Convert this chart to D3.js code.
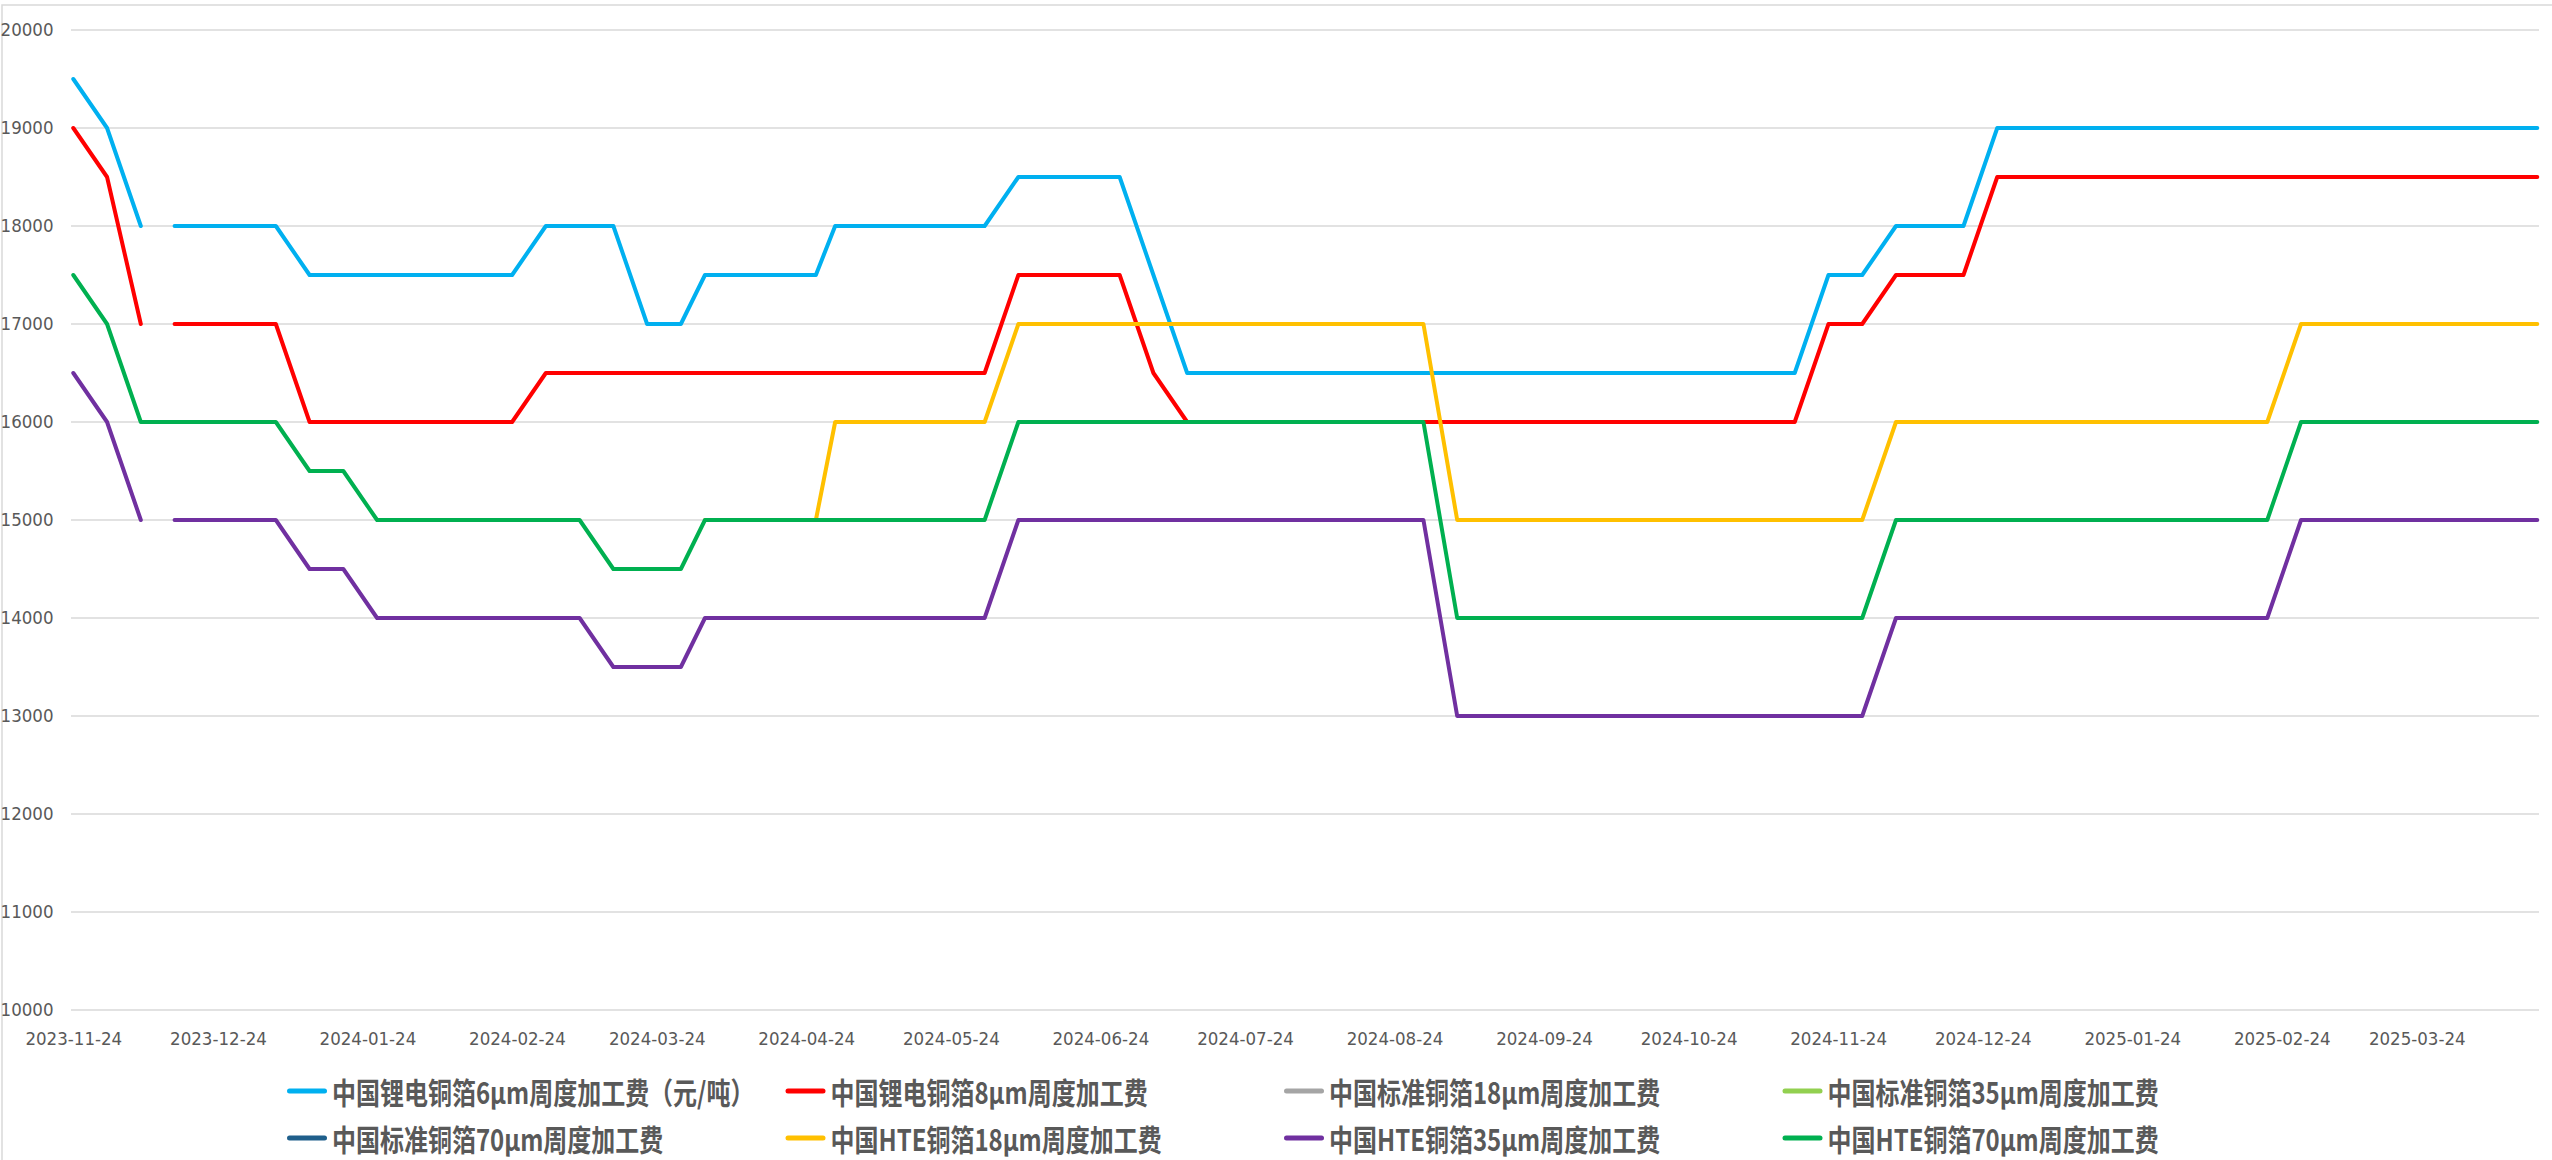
<!DOCTYPE html>
<html><head><meta charset="utf-8">
<script src="https://cdn.jsdelivr.net/npm/d3@7"></script>
<style>
html,body{margin:0;padding:0;background:#fff;}
svg{display:block;}
</style></head><body>
<svg id="chart" width="2552" height="1160"></svg>
<script>
// ---- data ----
const dates = ["2023-11-24","2023-12-01","2023-12-08","2023-12-12","2023-12-15","2024-01-05","2024-01-12","2024-01-19","2024-01-26","2024-02-23","2024-03-01","2024-03-08","2024-03-15","2024-03-22","2024-03-29","2024-04-03","2024-04-26","2024-04-30","2024-05-31","2024-06-07","2024-06-28","2024-07-05","2024-07-12","2024-08-30","2024-09-06","2024-11-15","2024-11-22","2024-11-29","2024-12-06","2024-12-20","2024-12-27","2025-02-21","2025-02-28","2025-04-18"];
const li6um  = [19500,19000,18000,null,18000,18000,17500,17500,17500,17500,18000,18000,18000,17000,17000,17500,17500,18000,18000,18500,18500,17500,16500,16500,16500,16500,17500,17500,18000,18000,19000,19000,19000,19000];
const li8um  = [19000,18500,17000,null,17000,17000,16000,16000,16000,16000,16500,16500,16500,16500,16500,16500,16500,16500,16500,17500,17500,16500,16000,16000,16000,16000,17000,17000,17500,17500,18500,18500,18500,18500];
const std18  = dates.map(() => null);
const std35  = dates.map(() => null);
const std70  = dates.map(() => null);
const hte18  = [null,null,null,null,null,null,null,null,null,null,null,null,null,null,null,15000,15000,16000,16000,17000,17000,17000,17000,17000,15000,15000,15000,15000,16000,16000,16000,16000,17000,17000];
const hte35  = [16500,16000,15000,null,15000,15000,14500,14500,14000,14000,14000,14000,13500,13500,13500,14000,14000,14000,14000,15000,15000,15000,15000,15000,13000,13000,13000,13000,14000,14000,14000,14000,15000,15000];
const hte70  = [17500,17000,16000,16000,16000,16000,15500,15500,15000,15000,15000,15000,14500,14500,14500,15000,15000,15000,15000,16000,16000,16000,16000,16000,14000,14000,14000,14000,15000,15000,15000,15000,16000,16000];
const seriesNames = ["中国锂电铜箔6μm周度加工费（元/吨）","中国锂电铜箔8μm周度加工费","中国标准铜箔18μm周度加工费","中国标准铜箔35μm周度加工费","中国标准铜箔70μm周度加工费","中国HTE铜箔18μm周度加工费","中国HTE铜箔35μm周度加工费","中国HTE铜箔70μm周度加工费"];
const seriesColors = ["#00B0F0","#FF0000","#A5A5A5","#92D050","#1F5F8B","#FFC000","#7030A0","#00B050"];
const yTicks = [10000,11000,12000,13000,14000,15000,16000,17000,18000,19000,20000];
const xTickLabels = ["2023-11-24","2023-12-24","2024-01-24","2024-02-24","2024-03-24","2024-04-24","2024-05-24","2024-06-24","2024-07-24","2024-08-24","2024-09-24","2024-10-24","2024-11-24","2024-12-24","2025-01-24","2025-02-24","2025-03-24"];

// ---- chart ----
const parse = d3.utcParse("%Y-%m-%d");
const fmt = d3.utcFormat("%Y-%m-%d");
const dateObjs = dates.map(parse);
const allSeries = [li6um, li8um, std18, std35, std70, hte18, hte35, hte70];

const svg = d3.select("#chart");
svg.append("rect").attr("x",0).attr("y",0).attr("width",2552).attr("height",1160).attr("fill","#fff");
svg.append("rect").attr("x",2).attr("y",5).attr("width",2600).attr("height",1200)
   .attr("fill","none").attr("stroke","#d9d9d9").attr("stroke-width",1.5);

const x = d3.scaleUtc().domain([dateObjs[0], dateObjs[dateObjs.length-1]]).range([73.3, 2537.3]);
const y = d3.scaleLinear().domain([10000, 20000]).range([1010, 30]);

const axisFont = "'Liberation Sans Narrow','Arial Narrow','DejaVu Sans Condensed',sans-serif";

// gridlines
svg.append("g").selectAll("line").data(yTicks).join("line")
  .attr("x1",71).attr("x2",2539)
  .attr("y1",d=>y(d)).attr("y2",d=>y(d))
  .attr("stroke","#d9d9d9").attr("stroke-width",1.5);

// y axis
const yAxis = svg.append("g").attr("transform","translate(71,0)")
  .call(d3.axisLeft(y).tickValues(yTicks).tickSize(0).tickPadding(17.5).tickFormat(d3.format("d")));
yAxis.select(".domain").remove();
yAxis.selectAll("text").attr("font-family",axisFont).attr("font-size",18.5).attr("fill","#595959");

// x axis
const xAxis = svg.append("g").attr("transform","translate(0,1010)")
  .call(d3.axisBottom(x).tickValues(xTickLabels.map(parse)).tickSize(0).tickPadding(21.5).tickFormat(fmt));
xAxis.select(".domain").remove();
xAxis.selectAll("text").attr("font-family",axisFont).attr("font-size",18.5).attr("fill","#595959");

// lines
const line = d3.line().defined(d => d.v !== null).x(d => x(d.t)).y(d => y(d.v));
allSeries.forEach((vals, i) => {
  const pts = vals.map((v, j) => ({t: dateObjs[j], v}));
  svg.append("path").datum(pts)
    .attr("fill","none").attr("stroke",seriesColors[i]).attr("stroke-width",4)
    .attr("stroke-linecap","round").attr("stroke-linejoin","round")
    .attr("d", line);
});

// legend
const legend = svg.append("g");
seriesNames.forEach((name, i) => {
  const col = i % 4, row = Math.floor(i / 4);
  const x0 = 287 + col * 498.5;
  const yc = 1091 + row * 47;
  legend.append("line").attr("x1",x0+2.5).attr("x2",x0+37.5).attr("y1",yc).attr("y2",yc)
    .attr("stroke",seriesColors[i]).attr("stroke-width",5).attr("stroke-linecap","round");
  legend.append("text").attr("transform",`translate(${x0+45},${yc}) scale(0.8,1)`)
    .attr("dominant-baseline","central")
    .attr("font-family","'Noto Sans CJK SC',sans-serif").attr("font-weight","bold")
    .attr("font-size",30).attr("fill","#595959").text(name);
});
</script>
</body></html>
